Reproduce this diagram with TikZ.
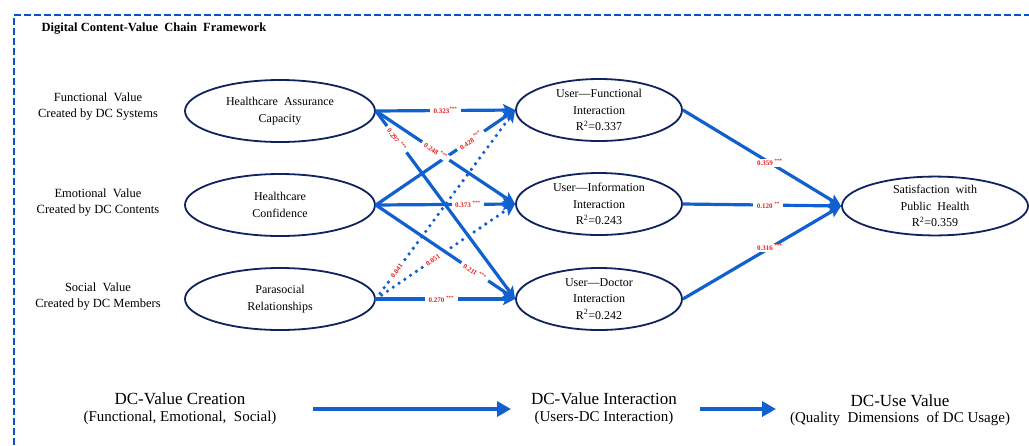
\documentclass[tikz,border=0pt]{standalone}
\usepackage{fontspec}
\setmainfont{Liberation Serif}
\usetikzlibrary{shapes.geometric,arrows.meta}
\definecolor{arrowblue}{RGB}{16,96,208}
\definecolor{borderblue}{RGB}{10,80,210}
\definecolor{navy}{RGB}{15,35,95}
\definecolor{labred}{RGB}{235,30,30}
\begin{document}
\begin{tikzpicture}[x=1pt,y=-1pt,
  ell/.style={ellipse, draw=navy, line width=1.8pt, inner sep=0pt, align=center,
    font=\fontsize{12}{16.5}\selectfont},
  sidelab/.style={align=center, font=\fontsize{12.5}{16}\selectfont},
  arr/.style={draw=arrowblue, line width=3.2pt, -{Stealth[length=12pt,width=12pt,inset=2.5pt]}},
  dotline/.style={line width=3.6pt, line cap=round, dash pattern=on 0pt off 7pt},
  coef/.style={font=\fontsize{7}{7.5}\selectfont\bfseries, text=labred, fill=white,
    inner xsep=3.5pt, inner ysep=0.6pt},
  bigarr/.style={draw=arrowblue, line width=4pt, -{Triangle[length=14pt,width=15pt]}},
  stage/.style={font=\fontsize{17}{20}\selectfont},
  stagesub/.style={font=\fontsize{15}{18}\selectfont},
  border/.style={draw=borderblue, line width=2.3pt, dash pattern=on 7pt off 3pt}
]
\useasboundingbox (0,0) rectangle (1029,445);
\fill[white] (0,0) rectangle (1029,445);

% frame
\draw[border] (14,445) -- (14,15) -- (1029,15);
\node[anchor=west, font=\fontsize{12.5}{14}\selectfont\bfseries] (title) at (38,29)
  {Digital Content-Value\ \ Chain\ \ Framework};

% side labels
\node[sidelab] (fv) at (98,107) {Functional\ \ Value\\Created by DC Systems};
\node[sidelab] (ev) at (98,203) {Emotional\ \ Value\\Created by DC Contents};
\node[sidelab] (sv) at (98,297) {Social\ \ Value\\Created by DC Members};

% left ellipses
\node[ell, minimum width=190pt, minimum height=62pt] (hac) at (280,111) {Healthcare\ \ Assurance\\Capacity};
\node[ell, minimum width=190pt, minimum height=62pt] (hc) at (280,205) {Healthcare\\Confidence};
\node[ell, minimum width=190pt, minimum height=62pt] (pr) at (280,299) {Parasocial\\Relationships};

% middle ellipses
\node[ell, minimum width=166pt, minimum height=62pt] (ufi) at (599,110) {User—Functional\\Interaction\\R\textsuperscript{2}=0.337};
\node[ell, minimum width=166pt, minimum height=62pt] (uii) at (599,204) {User—Information\\Interaction\\R\textsuperscript{2}=0.243};
\node[ell, minimum width=166pt, minimum height=62pt] (udi) at (599,299) {User—Doctor\\Interaction\\R\textsuperscript{2}=0.242};

% right ellipse
\node[ell, minimum width=186pt, minimum height=58pt] (sat) at (935,206) {Satisfaction\ \ with\\Public\ \ Health\\R\textsuperscript{2}=0.359};

% paths
\draw[arr] (hac.east) -- (ufi.west);
\draw[arr] (hac.east) -- (uii.west);
\draw[arr] (hac.east) -- (udi.west);
\draw[arr] (hc.east) -- (ufi.west);
\draw[arr] (hc.east) -- (uii.west);
\draw[arr] (hc.east) -- (udi.west);
\draw[arr,dotline] (pr.east) -- (ufi.west);
\draw[arr,dotline] (pr.east) -- (uii.west);
\draw[arr] (pr.east) -- (udi.west);
\draw[arr] (ufi.east) -- (sat.west);
\draw[arr] (uii.east) -- (sat.west);
\draw[arr] (udi.east) -- (sat.west);

% coefficients
\path (hac.east) -- (ufi.west) node[coef,pos=0.5] {0.323\textsuperscript{***}};
\path (hac.east) -- (uii.west) node[coef,sloped,pos=0.43] {0.248 \textsuperscript{***}};
\path (hac.east) -- (udi.west) node[coef,sloped,pos=0.15] {0.297 \textsuperscript{***}};
\path (hc.east) -- (ufi.west) node[coef,sloped,pos=0.68] {0.428 \textsuperscript{***}};
\path (hc.east) -- (uii.west) node[coef,pos=0.66] {0.373 \textsuperscript{***}};
\path (hc.east) -- (udi.west) node[coef,sloped,pos=0.71] {0.211 \textsuperscript{***}};
\path (pr.east) -- (ufi.west) node[coef,sloped,pos=0.15] {0.041};
\path (pr.east) -- (uii.west) node[coef,sloped,pos=0.41] {0.051};
\path (pr.east) -- (udi.west) node[coef,pos=0.47] {0.270 \textsuperscript{***}};
\path (ufi.east) -- (sat.west) node[coef,pos=0.55] {0.359 \textsuperscript{***}};
\path (uii.east) -- (sat.west) node[coef,pos=0.54] {0.120 \textsuperscript{**}};
\path (udi.east) -- (sat.west) node[coef,pos=0.55] {0.316 \textsuperscript{***}};

% bottom stages
\node[stage] (creation) at (180,399) {DC-Value Creation};
\node[stagesub] (creationsub) at (180,418) {(Functional, Emotional,\ \ Social)};
\node[stage] (inter) at (604,399) {DC-Value Interaction};
\node[stagesub] (intersub) at (604,418) {(Users-DC Interaction)};
\node[stage] (use) at (900,401) {DC-Use Value};
\node[stagesub] (usesub) at (900,419) {(Quality\ \ Dimensions\ \ of DC Usage)};

\coordinate (b1s) at (313,409);
\coordinate (b1e) at (511,409);
\coordinate (b2s) at (700,409);
\coordinate (b2e) at (776,409);
\draw[bigarr] (b1s) -- (b1e);
\draw[bigarr] (b2s) -- (b2e);
\end{tikzpicture}
\end{document}
